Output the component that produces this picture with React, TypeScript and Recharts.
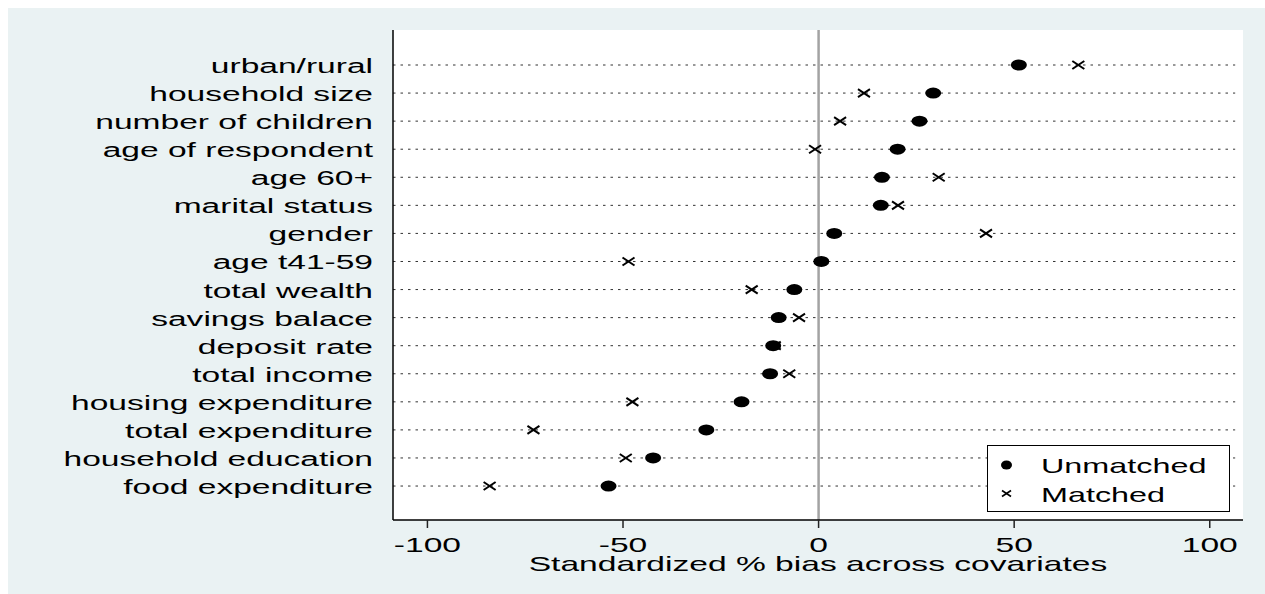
import React from 'react';
import { ScatterChart, Scatter, XAxis, YAxis, CartesianGrid, ReferenceLine, Legend } from 'recharts';

const covariates = [
  'urban/rural',
  'household size',
  'number of children',
  'age of respondent',
  'age 60+',
  'marital status',
  'gender',
  'age t41-59',
  'total wealth',
  'savings balace',
  'deposit rate',
  'total income',
  'housing expenditure',
  'total expenditure',
  'household education',
  'food expenditure',
];
const unmatchedBias = [51.2, 29.3, 25.8, 20.2, 16.2, 15.9, 4.0, 0.7, -6.2, -10.2, -11.6, -12.4, -19.7, -28.7, -42.3, -53.7];
const matchedBias = [66.4, 11.6, 5.5, -0.9, 30.7, 20.3, 42.8, -48.6, -17.1, -5.0, -11.2, -7.5, -47.6, -72.9, -49.3, -84.1];
const xTicks = [-100, -50, 0, 50, 100];
const xDomain = [-108.8, 108.5];
const gridEnd = 106.5;
const xTitle = 'Standardized % bias across covariates';
const seriesNames = ['Unmatched', 'Matched'];

const FONT = '"Liberation Sans", Arial, Helvetica, sans-serif';
const N = covariates.length;
const rowOf = (i: number) => N - i;
const unmatchedData = covariates.map((c, i) => ({ x: unmatchedBias[i], y: rowOf(i), name: c }));
const matchedData = covariates.map((c, i) => ({ x: matchedBias[i], y: rowOf(i), name: c }));
const rowTicks = covariates.map((_, i) => rowOf(i));
const labelForRow = (v: number) => covariates[N - v];

const DotShape = (p: any) => <ellipse cx={p.cx} cy={p.cy} rx={8} ry={5.5} fill="#000" />;
const CrossShape = (p: any) => (
  <g stroke="#000" strokeWidth={2}>
    <line x1={p.cx - 6} y1={p.cy - 4} x2={p.cx + 6} y2={p.cy + 4} />
    <line x1={p.cx - 6} y1={p.cy + 4} x2={p.cx + 6} y2={p.cy - 4} />
  </g>
);

const YTick = (p: any) => (
  <g transform={`translate(${p.x},${p.y})`}>
    <text transform="scale(1.72,1)" textAnchor="end" dy={8} fontSize={19.5} fontFamily={FONT} fill="#000">
      {labelForRow(p.payload.value)}
    </text>
  </g>
);

const XTick = (p: any) => (
  <g transform={`translate(${p.x},${p.y})`}>
    <text transform="scale(1.6,1)" textAnchor="middle" dy={22.2} fontSize={21} fontFamily={FONT} fill="#000">
      {String(p.payload.value)}
    </text>
  </g>
);

const XTitle = (p: any) => {
  const vb = p.viewBox || { x: 385, y: 512, width: 850, height: 74 };
  return (
    <g transform={`translate(${vb.x + vb.width / 2},${vb.y + 51.2})`}>
      <text transform="scale(1.6,1)" textAnchor="middle" fontSize={21} fontFamily={FONT} fill="#000">
        {xTitle}
      </text>
    </g>
  );
};

const legendText: React.CSSProperties = {
  position: 'absolute',
  left: 53,
  fontSize: 21,
  lineHeight: '24px',
  whiteSpace: 'nowrap',
  transform: 'scaleX(1.54)',
  transformOrigin: 'left center',
  color: '#000',
};

const LegendBox = () => (
  <div
    style={{
      boxSizing: 'border-box',
      width: 243,
      height: 67,
      border: '1px solid #000',
      background: '#fff',
      position: 'relative',
      fontFamily: FONT,
    }}
  >
    <svg width={40} height={65} style={{ position: 'absolute', left: 0, top: 0 }}>
      <ellipse cx={18.5} cy={19} rx={5.5} ry={4.5} fill="#000" />
      <g stroke="#000" strokeWidth={1.6}>
        <line x1={14} y1={44.5} x2={23} y2={50.5} />
        <line x1={14} y1={50.5} x2={23} y2={44.5} />
      </g>
    </svg>
    <span style={{ ...legendText, top: 8 }}>{seriesNames[0]}</span>
    <span style={{ ...legendText, top: 36.5 }}>{seriesNames[1]}</span>
  </div>
);

export default function App() {
  return (
    <div style={{ position: 'absolute', left: 8, top: 8, width: 1257, height: 586 }}>
      <ScatterChart
        width={1257}
        height={586}
        margin={{ top: 22, right: 22, bottom: 0, left: 0 }}
        style={{ background: '#EAF2F3' }}
      >
        <CartesianGrid horizontal={false} vertical={false} fill="#fff" fillOpacity={1} stroke="none" />
        <XAxis
          type="number"
          dataKey="x"
          domain={xDomain}
          ticks={xTicks}
          allowDataOverflow
          height={74}
          tickSize={8}
          tickMargin={2}
          axisLine={{ stroke: '#000', strokeWidth: 1.5 }}
          tickLine={{ stroke: '#222', strokeWidth: 1.5 }}
          tick={<XTick />}
          label={XTitle}
        />
        <YAxis
          type="number"
          dataKey="y"
          domain={[1 - 1.21, N + 1.247]}
          ticks={rowTicks}
          allowDataOverflow
          width={385}
          tickSize={0}
          tickMargin={20}
          tickLine={false}
          axisLine={{ stroke: '#000', strokeWidth: 1.5 }}
          tick={<YTick />}
          interval={0}
        />
        {rowTicks.map((r) => (
          <ReferenceLine
            key={`g${r}`}
            segment={[
              { x: xDomain[0], y: r },
              { x: gridEnd, y: r },
            ]}
            stroke="#333"
            strokeWidth={1}
            strokeDasharray="2.5 5"
          />
        ))}
        <ReferenceLine x={0} stroke="#A3A3A3" strokeWidth={2.5} />
        <Legend
          layout="vertical"
          align="center"
          verticalAlign="middle"
          wrapperStyle={{ left: 979, top: 437, width: 243, height: 67 }}
          content={() => <LegendBox />}
        />
        <Scatter name={seriesNames[0]} data={unmatchedData} shape={DotShape} isAnimationActive={false} />
        <Scatter name={seriesNames[1]} data={matchedData} shape={CrossShape} isAnimationActive={false} />
      </ScatterChart>
    </div>
  );
}
